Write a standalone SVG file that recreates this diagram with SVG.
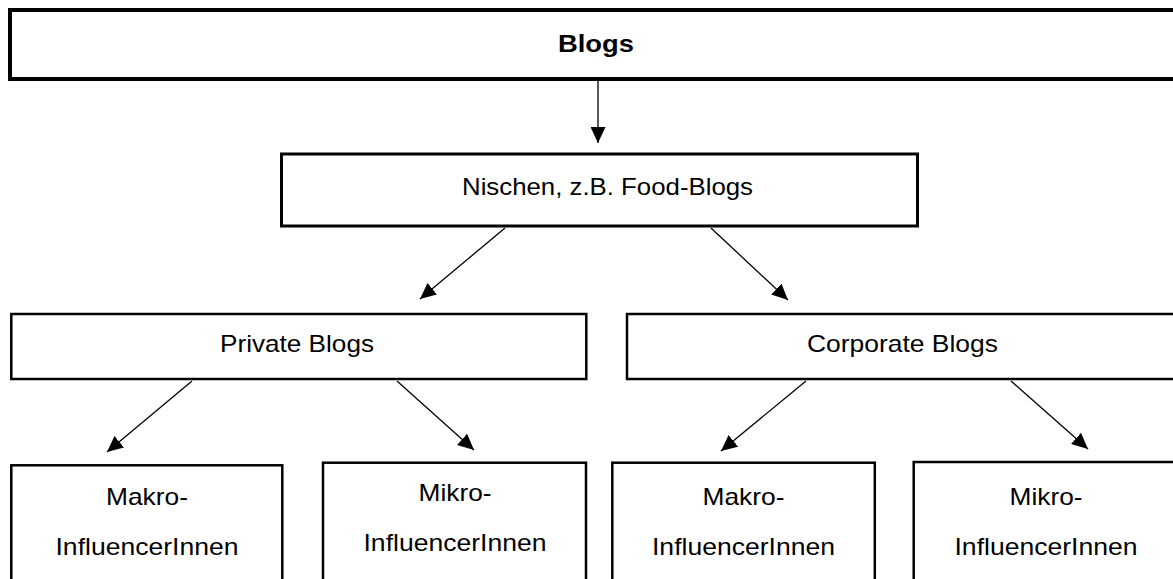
<svg xmlns="http://www.w3.org/2000/svg" width="1173" height="579" viewBox="0 0 1173 579">
<style>
.box{fill:#fff;stroke:#000}
.t{font-family:"Liberation Sans",Arial,sans-serif;font-size:24px;fill:#000;text-anchor:middle}
.b{font-weight:bold}
.c{stroke:#000;stroke-width:1.3;fill:none;marker-end:url(#ah)}
</style>
<defs>
<marker id="ah" markerUnits="userSpaceOnUse" markerWidth="17" markerHeight="15" refX="16" refY="7.5" orient="auto">
<path d="M0,0 L16,7.5 L0,15 z" fill="#000"/>
</marker>
</defs>
<rect width="1173" height="579" fill="#fff"/>
<g id="blogs">
<rect class="box" x="10" y="10" width="1175" height="69" stroke-width="4"/>
<text class="t b" x="596" y="52" textLength="76" lengthAdjust="spacingAndGlyphs">Blogs</text>
</g>
<g id="nischen">
<rect class="box" x="281.5" y="154" width="636" height="72" stroke-width="3"/>
<text class="t" x="607.5" y="195" textLength="291" lengthAdjust="spacingAndGlyphs">Nischen, z.B. Food-Blogs</text>
</g>
<g id="private">
<rect class="box" x="11.3" y="314" width="575" height="65" stroke-width="2.5"/>
<text class="t" x="297" y="351.5" textLength="154" lengthAdjust="spacingAndGlyphs">Private Blogs</text>
</g>
<g id="corporate">
<rect class="box" x="627" y="314" width="560" height="65" stroke-width="2.5"/>
<text class="t" x="902.5" y="352" textLength="191" lengthAdjust="spacingAndGlyphs">Corporate Blogs</text>
</g>
<g id="makro1">
<rect class="box" x="11.3" y="465.3" width="271" height="130" stroke-width="2.5"/>
<text class="t" x="147" y="505" textLength="82" lengthAdjust="spacingAndGlyphs">Makro-</text>
<text class="t" x="147" y="555" textLength="183" lengthAdjust="spacingAndGlyphs">InfluencerInnen</text>
</g>
<g id="mikro1">
<rect class="box" x="323" y="462.7" width="263" height="130" stroke-width="2.5"/>
<text class="t" x="455" y="501" textLength="73" lengthAdjust="spacingAndGlyphs">Mikro-</text>
<text class="t" x="455" y="551" textLength="183" lengthAdjust="spacingAndGlyphs">InfluencerInnen</text>
</g>
<g id="makro2">
<rect class="box" x="612.3" y="462.7" width="262.5" height="130" stroke-width="2.5"/>
<text class="t" x="743.5" y="505" textLength="82" lengthAdjust="spacingAndGlyphs">Makro-</text>
<text class="t" x="743.5" y="555" textLength="183" lengthAdjust="spacingAndGlyphs">InfluencerInnen</text>
</g>
<g id="mikro2">
<rect class="box" x="913.7" y="462" width="270" height="130" stroke-width="2.5"/>
<text class="t" x="1046" y="505" textLength="73" lengthAdjust="spacingAndGlyphs">Mikro-</text>
<text class="t" x="1046" y="555" textLength="183" lengthAdjust="spacingAndGlyphs">InfluencerInnen</text>
</g>
<g id="connectors">
<line class="c" x1="598" y1="81" x2="598" y2="143" stroke-width="1.5"/>
<line class="c" x1="505" y1="228" x2="420" y2="299"/>
<line class="c" x1="711" y1="228" x2="788" y2="300"/>
<line class="c" x1="192" y1="381" x2="107" y2="452"/>
<line class="c" x1="397" y1="381" x2="474" y2="450"/>
<line class="c" x1="806" y1="381" x2="721" y2="451"/>
<line class="c" x1="1011" y1="381" x2="1088" y2="449"/>
</g>
</svg>
